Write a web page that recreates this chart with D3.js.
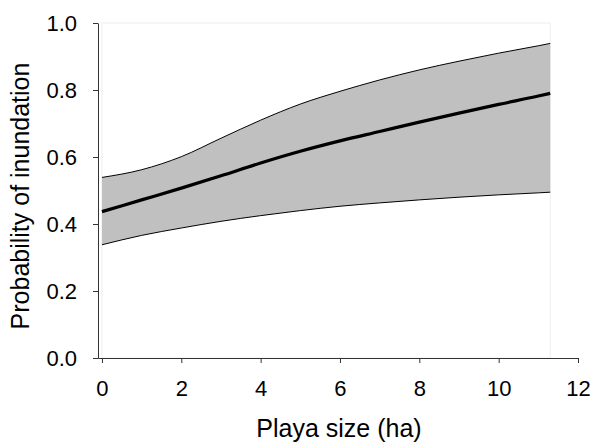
<!DOCTYPE html>
<html>
<head>
<meta charset="utf-8">
<script src="https://cdn.jsdelivr.net/npm/d3@7"></script>
<style>
  body { margin: 0; background: #fff; }
  text { font-family: "Liberation Sans", Arial, sans-serif; fill: #000; }
</style>
</head>
<body>
<svg id="chart"></svg>
<script>
// Data
let sizes = [0, 1, 2, 3, 4, 5, 6, 7, 8, 9, 10, 11, 11.3];
let fitted = [0.437, 0.472, 0.507, 0.544, 0.582, 0.617, 0.648, 0.676, 0.704, 0.731, 0.757, 0.782, 0.790];
let upper = [0.539, 0.562, 0.601, 0.656, 0.710, 0.758, 0.796, 0.830, 0.860, 0.886, 0.910, 0.932, 0.939];
let lower = [0.338, 0.366, 0.388, 0.408, 0.425, 0.440, 0.453, 0.463, 0.472, 0.480, 0.487, 0.493, 0.495];
let xTicks = [0, 2, 4, 6, 8, 10, 12];
let yTicks = [0, 0.2, 0.4, 0.6, 0.8, 1.0];

let points = sizes.map((s, i) => ({ x: s, y: fitted[i], lo: lower[i], hi: upper[i] }));

// SVG Size
let width = 595;
let height = 443;

let svg = d3.select("#chart")
    .attr("width", width)
    .attr("height", height);

// Scales
let x = d3.scaleLinear().domain([-0.1, 12]).range([98, 578]);
let y = d3.scaleLinear().domain([0, 1]).range([358, 23]);

// faint plot frame around the data range
svg.append("rect")
    .attr("x", x(0))
    .attr("y", y(1))
    .attr("width", x(11.3) - x(0))
    .attr("height", y(0) - y(1))
    .attr("fill", "none")
    .attr("stroke", "#eeeeee");

// Confidence band
let band = d3.area()
    .x(d => x(d.x))
    .y0(d => y(d.lo))
    .y1(d => y(d.hi))
    .curve(d3.curveMonotoneX);

svg.append("path")
    .datum(points)
    .attr("d", band)
    .attr("fill", "#c0c0c0");

let edge = key => d3.line()
    .x(d => x(d.x))
    .y(d => y(d[key]))
    .curve(d3.curveMonotoneX);

svg.append("path").datum(points).attr("d", edge("hi"))
    .attr("fill", "none").attr("stroke", "#000").attr("stroke-width", 1);
svg.append("path").datum(points).attr("d", edge("lo"))
    .attr("fill", "none").attr("stroke", "#000").attr("stroke-width", 1);

// Fitted curve
svg.append("path").datum(points).attr("d", edge("y"))
    .attr("fill", "none").attr("stroke", "#000").attr("stroke-width", 3.2);

// Axes
let xAxis = svg.append("g")
    .attr("transform", `translate(0, ${y(0)})`)
    .call(d3.axisBottom(x).tickValues(xTicks).tickSize(5).tickSizeOuter(0).tickFormat(d3.format("d")));

let yAxis = svg.append("g")
    .attr("transform", `translate(${x(-0.1)}, 0)`)
    .call(d3.axisLeft(y).tickValues(yTicks).tickSize(5).tickSizeOuter(0).tickFormat(d3.format(".1f")));

[xAxis, yAxis].forEach(g => {
    g.select(".domain").attr("stroke", "#333");
    g.selectAll(".tick line").attr("stroke", "#333");
    g.selectAll(".tick text")
        .style("font-family", "'Liberation Sans', Arial, sans-serif")
        .style("font-size", "22px")
        .attr("fill", "#000");
});
xAxis.selectAll(".tick text").attr("dy", 0).attr("y", 38);
yAxis.selectAll(".tick text").attr("x", -21).attr("dy", "0.36em");

// Axis titles
svg.append("text")
    .attr("x", 339)
    .attr("y", 437)
    .attr("text-anchor", "middle")
    .style("font-size", "25px")
    .text("Playa size (ha)");

svg.append("text")
    .attr("transform", "translate(29, 196) rotate(-90)")
    .attr("text-anchor", "middle")
    .style("font-size", "25px")
    .text("Probability of inundation");
</script>
</body>
</html>
